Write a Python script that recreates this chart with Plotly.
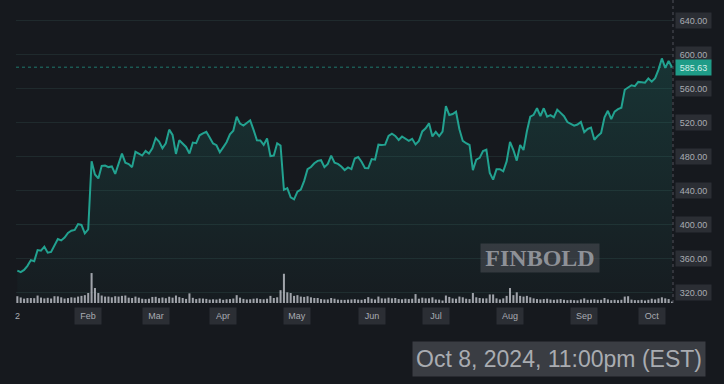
import pandas as pd
import plotly.graph_objects as go

# ---------------- data ----------------
holidays = ["2024-01-15", "2024-02-19", "2024-03-29", "2024-05-27",
            "2024-06-19", "2024-07-04", "2024-09-02"]
dates = pd.bdate_range("2024-01-02", "2024-10-09", freq="C", holidays=holidays)

close_jan = [346.29, 344.47, 347.12, 351.95, 358.66, 357.43, 370.47, 369.67, 374.49, 367.46, 368.37,
             376.13, 383.45, 381.78, 385.20, 390.70, 393.18, 394.14, 401.02, 400.06, 390.14]
close_feb = [394.78, 474.99, 459.41, 454.72, 469.59, 470.00, 468.11, 468.90, 460.12, 473.28,
             484.03, 473.32, 471.75, 468.03, 486.13, 484.03, 481.74, 487.05, 484.02, 490.13]
close_mar = [502.30, 498.19, 490.22, 496.09, 512.19, 505.95, 483.59, 499.75, 495.57, 491.83,
             484.10, 496.98, 496.24, 505.52, 507.76, 509.58, 503.02, 495.89, 493.86, 485.58]
close_apr = [491.35, 497.37, 506.74, 510.92, 527.34, 519.25, 516.90, 519.83, 523.16, 511.90, 499.76,
             499.49, 494.17, 501.80, 481.07, 481.73, 496.10, 493.50, 441.38, 443.29, 432.62, 430.17]
close_may = [439.19, 441.68, 451.96, 465.68, 468.24, 472.60, 475.42, 476.20, 468.01, 471.85, 481.54,
             473.23, 471.90, 468.84, 464.63, 467.78, 465.78, 478.22, 479.92, 474.36, 467.05, 466.83]
close_jun = [477.49, 476.79, 494.47, 494.03, 494.46, 504.79, 507.35, 504.82, 499.99, 504.16,
             501.70, 498.95, 501.34, 494.78, 498.93, 510.06, 513.70, 519.56, 504.22]
close_jul = [509.50, 504.68, 509.96, 539.91, 529.32, 530.52, 533.28, 512.70, 498.87, 496.16, 494.11,
             464.50, 476.79, 479.00, 487.00, 488.67, 461.27, 453.41, 465.70, 465.71, 463.19, 474.83]
close_aug = [497.74, 488.14, 475.73, 494.09, 488.14, 510.24, 527.42, 529.65, 537.33, 528.17, 537.33,
             527.42, 529.28, 526.73, 535.70, 531.93, 528.00, 521.12, 519.10, 516.78, 518.22, 521.31]
close_sep = [509.21, 512.95, 514.57, 500.27, 504.79, 508.33, 526.72, 534.36, 524.62, 533.28,
             536.32, 537.95, 559.10, 561.35, 564.41, 563.33, 568.31, 567.84, 567.36, 572.44]
close_oct = [568.62, 572.81, 582.77, 595.94, 584.78, 592.89, 585.63]

vol_jan = [19.0, 15.5, 12.2, 13.9, 13.9, 13.5, 20.9, 15.3, 12.8, 14.5, 12.6,
           19.1, 18.6, 15.9, 12.4, 13.8, 16.0, 15.0, 18.0, 20.0, 22.0]
vol_feb = [28.0, 84.0, 42.0, 28.0, 21.0, 18.0, 18.0, 16.0, 19.0, 18.0,
           20.0, 21.0, 15.0, 14.0, 18.0, 15.0, 12.0, 11.0, 12.0, 17.0]
vol_mar = [17.4, 13.5, 15.5, 13.4, 17.5, 15.0, 21.0, 16.5, 14.0, 11.5,
           27.0, 14.5, 11.0, 13.0, 12.5, 11.5, 9.5, 10.5, 9.8, 12.0]
vol_apr = [9.0, 10.5, 11.0, 12.5, 22.0, 15.0, 11.5, 10.0, 10.5, 12.0, 13.0,
           11.0, 10.5, 12.0, 20.0, 14.0, 16.0, 36.0, 82.0, 30.0, 28.0, 20.0]
vol_may = [22.0, 18.0, 17.0, 19.0, 16.0, 14.0, 14.0, 11.0, 10.0, 10.0, 14.0,
           12.0, 9.5, 9.0, 8.8, 9.5, 10.0, 10.8, 9.5, 9.0, 11.0, 16.5]
vol_jun = [12.0, 10.0, 18.0, 13.0, 12.5, 15.0, 13.0, 14.0, 11.0, 10.5,
           12.0, 11.0, 12.0, 25.0, 12.0, 15.0, 13.0, 13.0, 16.0]
vol_jul = [10.0, 9.5, 7.0, 21.0, 17.0, 13.0, 12.0, 18.0, 16.0, 12.0, 11.0,
           28.0, 16.0, 14.0, 13.0, 13.0, 24.0, 24.0, 13.0, 10.0, 13.0, 20.0]
vol_aug = [42.0, 22.0, 30.0, 20.0, 18.0, 20.0, 16.0, 13.0, 11.0, 10.0, 11.0,
           12.0, 10.0, 9.0, 10.0, 11.0, 9.0, 8.0, 9.0, 8.0, 7.5, 10.0]
vol_sep = [13.0, 9.0, 9.5, 10.5, 9.0, 9.0, 14.0, 10.0, 8.0, 9.0,
           8.0, 9.0, 18.0, 19.0, 9.5, 8.0, 8.0, 9.0, 7.0, 9.0]
vol_oct = [12.0, 10.0, 13.0, 16.0, 13.0, 11.0, 4.0]

price_ticks = [320, 360, 400, 440, 480, 520, 560, 600, 640]
month_labels = ["Feb", "Mar", "Apr", "May", "Jun", "Jul", "Aug", "Sep", "Oct"]
first_label = "2"
last_price_text = "585.63"
date_text = "Oct 8, 2024, 11:00pm (EST)"
watermark = "FINBOLD"

# ---------------- build ----------------
close = (close_jan + close_feb + close_mar + close_apr + close_may + close_jun
         + close_jul + close_aug + close_sep + close_oct)
volume = (vol_jan + vol_feb + vol_mar + vol_apr + vol_may + vol_jun
          + vol_jul + vol_aug + vol_sep + vol_oct)
n = min(len(dates), len(close), len(volume))
idx = list(range(n))

month_start = {}
for i, d in enumerate(dates[:n]):
    key = (d.year, d.month)
    if key not in month_start:
        month_start[key] = i
month_idx = [v for k, v in month_start.items()][1:]

BG = "#16191e"
TEAL = "#22a290"
BOX = "#2b2e34"
TXT = "#a9acb2"

fig = go.Figure()

fig.add_trace(go.Scatter(
    x=idx, y=close[:n], mode="lines",
    line=dict(color=TEAL, width=2),
    fill="tozeroy",
    fillgradient=dict(type="vertical",
                      colorscale=[[0, "rgba(34,162,144,0.02)"], [1, "rgba(34,162,144,0.20)"]],
                      start=308, stop=600),
    hoverinfo="skip", showlegend=False))

fig.add_trace(go.Bar(
    x=idx, y=volume[:n], yaxis="y2", width=0.6,
    marker=dict(color="rgba(195,198,205,0.8)", line=dict(width=0)),
    hoverinfo="skip", showlegend=False))

annotations = []
for t in price_ticks:
    annotations.append(dict(
        xref="paper", x=1, xanchor="left", xshift=2, yref="y", y=t, yanchor="middle",
        text=f"{t:.2f}", showarrow=False, bgcolor=BOX, borderpad=2, width=31, height=11,
        font=dict(family="Liberation Sans", size=9, color=TXT)))
annotations.append(dict(
    xref="paper", x=1, xanchor="left", xshift=2, yref="y", y=close[n - 1], yanchor="middle",
    text=last_price_text, showarrow=False, bgcolor="#1f9c88", borderpad=2, width=31, height=11,
    font=dict(family="Liberation Sans", size=9, color="#d6efe9")))
for lab, mi in zip(month_labels, month_idx):
    annotations.append(dict(
        xref="x", x=mi, xanchor="center", yref="paper", y=0, yanchor="top", yshift=-4,
        text=lab, showarrow=False, bgcolor=BOX, borderpad=2, width=22, height=12,
        font=dict(family="Liberation Sans", size=9, color=TXT)))
annotations.append(dict(
    xref="x", x=0, xanchor="center", yref="paper", y=0, yanchor="top", yshift=-4,
    text=first_label, showarrow=False, borderpad=2, height=12,
    font=dict(family="Liberation Sans", size=9, color=TXT)))
annotations.append(dict(
    xref="paper", x=0.7976, xanchor="center", yref="paper", y=0.1485, yanchor="middle",
    text=f"<b>{watermark}</b>", showarrow=False, bgcolor="rgba(78,81,88,0.55)",
    borderpad=3, width=112, height=22,
    font=dict(family="Liberation Serif", size=24, color="#8e9197")))
annotations.append(dict(
    xref="paper", x=0.8265, xanchor="center", yref="paper", y=-0.1848, yanchor="middle",
    text=date_text, showarrow=False, bgcolor="#3a3d43", borderpad=3, width=286, height=28,
    font=dict(family="Liberation Sans", size=23, color="#a9acb1")))

shapes = [
    dict(type="line", xref="paper", x0=0, x1=1, yref="y", y0=close[n - 1], y1=close[n - 1],
         line=dict(color="rgba(34,162,144,0.7)", width=1, dash="dot")),
    dict(type="line", xref="paper", x0=1, x1=1, yref="paper", y0=0, y1=1,
         line=dict(color="#50535a", width=1, dash="dot")),
]

fig.update_layout(
    width=724, height=384,
    margin=dict(l=16, r=51, t=0, b=81),
    paper_bgcolor=BG, plot_bgcolor=BG,
    bargap=0.4,
    xaxis=dict(range=[-0.4, 194.3], showgrid=False, zeroline=False,
               showticklabels=False, ticks="", showline=False),
    yaxis=dict(range=[308.2, 664.7], side="right", tickvals=price_ticks,
               showticklabels=False, gridcolor="#1f2a2d", gridwidth=1,
               zeroline=False, showline=False, ticks=""),
    yaxis2=dict(range=[0, 850], overlaying="y", visible=False, showgrid=False),
    annotations=annotations,
    shapes=shapes,
)

fig.write_html(
    "out.html",
    config={"displayModeBar": False},
    post_script="document.body.style.margin='0';document.body.style.background='#16191e';",
)
